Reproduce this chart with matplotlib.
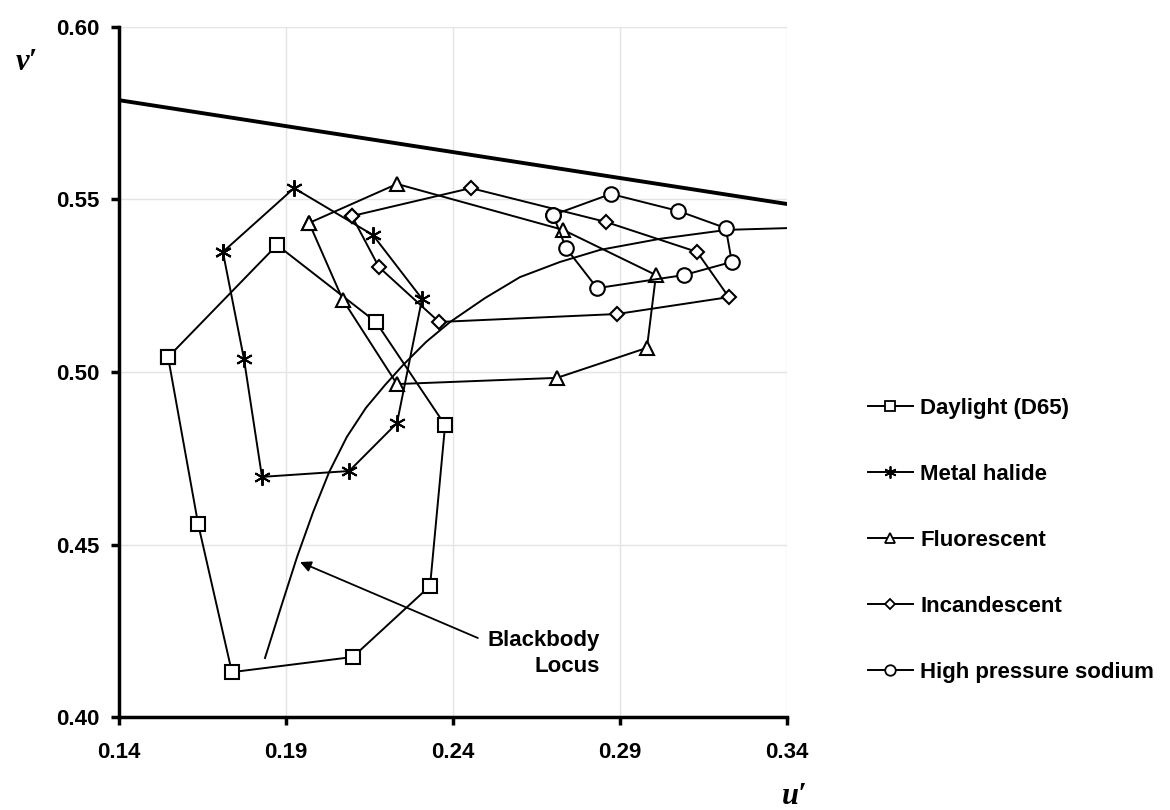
import matplotlib
matplotlib.use("Agg")
import matplotlib.pyplot as plt
from matplotlib.lines import Line2D

plt.rcParams['font.family'] = ['Liberation Sans', 'DejaVu Sans']

# chromaticity loops (u', v')
daylight_u = [0.1548, 0.1874, 0.2170, 0.2377, 0.2332, 0.2101, 0.1739, 0.1638]
daylight_v = [0.5043, 0.5368, 0.5145, 0.4846, 0.4380, 0.4174, 0.4130, 0.4559]

metal_u = [0.1712, 0.1925, 0.2161, 0.2308, 0.2233, 0.2090, 0.1829, 0.1775]
metal_v = [0.5348, 0.5533, 0.5397, 0.5212, 0.4852, 0.4713, 0.4696, 0.5038]

fluor_u = [0.1970, 0.2233, 0.2730, 0.3008, 0.2981, 0.2712, 0.2233, 0.2071]
fluor_v = [0.5432, 0.5545, 0.5412, 0.5281, 0.5070, 0.4983, 0.4965, 0.5209]

incand_u = [0.2098, 0.2454, 0.2858, 0.3131, 0.3226, 0.2891, 0.2359, 0.2179]
incand_v = [0.5452, 0.5533, 0.5435, 0.5348, 0.5217, 0.5168, 0.5145, 0.5304]

hps_u = [0.2700, 0.2873, 0.3074, 0.3217, 0.3235, 0.3092, 0.2832, 0.2739]
hps_v = [0.5455, 0.5516, 0.5467, 0.5417, 0.5319, 0.5281, 0.5243, 0.5359]

# blackbody locus
bb_u = [0.1838, 0.1886, 0.1934, 0.1982, 0.2030, 0.2083, 0.2140, 0.2197, 0.2251,
        0.2320, 0.2392, 0.2496, 0.2601, 0.2721, 0.2841, 0.3020, 0.3221, 0.3400]
bb_v = [0.4171, 0.4319, 0.4464, 0.4594, 0.4710, 0.4812, 0.4896, 0.4962, 0.5020,
        0.5087, 0.5145, 0.5214, 0.5275, 0.5319, 0.5354, 0.5386, 0.5412, 0.5417]

# spectrum locus segment (thick line at top)
spec_u = [0.14, 0.34]
spec_v = [0.5788, 0.5487]

series = [
    ("Daylight (D65)", daylight_u, daylight_v, 's', 9.5, 1.5),
    ("Metal halide", metal_u, metal_v, (6, 2, 0), 12, 1.4),
    ("Fluorescent", fluor_u, fluor_v, '^', 10, 1.5),
    ("Incandescent", incand_u, incand_v, 'D', 7, 1.5),
    ("High pressure sodium", hps_u, hps_v, 'o', 10.5, 1.5),
]

fig = plt.figure(figsize=(11.7, 8.1), dpi=100)
ax = fig.add_axes([0.1014, 0.1148, 0.5712, 0.8519])

ax.plot(spec_u, spec_v, color='black', lw=2.8, zorder=3)
ax.plot(bb_u, bb_v, color='black', lw=1.4, zorder=3)

handles = []
for name, u, v, mk, ms, mew in series:
    uu = list(u) + [u[0]]
    vv = list(v) + [v[0]]
    ax.plot(uu, vv, color='black', lw=1.4, marker=mk, ms=ms, mfc='white',
            mec='black', mew=mew, zorder=4)
    handles.append(Line2D([], [], color='black', lw=1.4, marker=mk, ms=ms * 0.72,
                          mfc='white', mec='black', mew=1.3, label=name))

ax.set_xlim(0.14, 0.34)
ax.set_ylim(0.40, 0.60)
ax.set_xticks([0.14, 0.19, 0.24, 0.29, 0.34])
ax.set_yticks([0.40, 0.45, 0.50, 0.55, 0.60])
ax.set_xticklabels(["0.14", "0.19", "0.24", "0.29", "0.34"])
ax.set_yticklabels(["0.40", "0.45", "0.50", "0.55", "0.60"])
ax.grid(True, color='#e4e4e4', lw=1.0, zorder=0)
ax.set_axisbelow(True)

for s in ['top', 'right']:
    ax.spines[s].set_visible(False)
for s in ['left', 'bottom']:
    ax.spines[s].set_linewidth(2.5)
ax.tick_params(direction='out', length=6, width=2.5, labelsize=16, pad=8)
for lab in ax.get_xticklabels() + ax.get_yticklabels():
    lab.set_fontweight('bold')
ax.tick_params(axis='x', pad=12)

# axis titles
fig.text(27 / 1170, 1 - 63 / 810, "v\u2032", fontsize=22, fontweight='bold',
         fontstyle='italic', family='Liberation Serif', ha='center', va='center')
fig.text(795 / 1170, 1 - 796 / 810, "u\u2032", fontsize=22, fontweight='bold',
         fontstyle='italic', family='Liberation Serif', ha='center', va='center')

# blackbody annotation
ax.text(0.2840, 0.4183, "Blackbody\nLocus", fontsize=16, fontweight='bold',
        ha='right', va='center', linespacing=1.3)
ax.annotate("", xy=(0.1943, 0.4449), xytext=(0.2475, 0.4229),
            arrowprops=dict(arrowstyle='-|>', color='black', lw=1.3,
                            mutation_scale=16, shrinkA=0, shrinkB=0))

fig.legend(handles=handles, loc='upper left', bbox_to_anchor=(0.742, 0.509),
           frameon=False, prop={'weight': 'bold', 'size': 16},
           handlelength=2.0, handletextpad=0.35, labelspacing=2.03,
           borderpad=0, borderaxespad=0)

fig.savefig("out.png", dpi=100)
